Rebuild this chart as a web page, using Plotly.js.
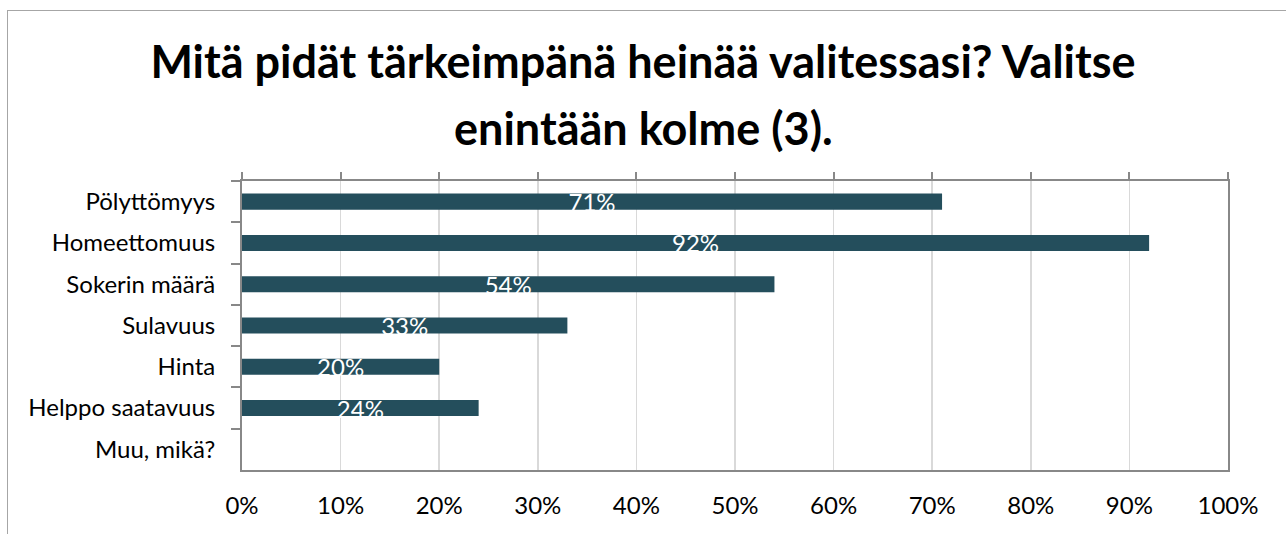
<!DOCTYPE html>
<html>
<head>
<meta charset="utf-8">
<script src="https://cdn.plot.ly/plotly-3.0.1.min.js"></script>
<style>
  html, body { margin: 0; padding: 0; background: #ffffff; overflow: hidden; }
  #frame { position: absolute; left: 7px; top: 10px; width: 1400px; height: 700px; border-left: 1px solid #a6a6a6; border-top: 1px solid #a6a6a6; }
  #chart { position: absolute; left: 0; top: 0; width: 1286px; height: 534px; }
</style>
</head>
<body>
<div id="frame"></div>
<div id="chart"></div>
<script>
const titleLine1 = 'Mitä pidät tärkeimpänä heinää valitessasi? Valitse';
const titleLine2 = 'enintään kolme (3).';
const categories = ['Pölyttömyys', 'Homeettomuus', 'Sokerin määrä', 'Sulavuus', 'Hinta', 'Helppo saatavuus', 'Muu, mikä?'];
const percentValues = [71, 92, 54, 33, 20, 24, 0];
const xTickValues = [0, 0.1, 0.2, 0.3, 0.4, 0.5, 0.6, 0.7, 0.8, 0.9, 1.0];

const fractions = percentValues.map(v => v / 100);
const labels = percentValues.map(v => v > 0 ? v + '%' : '');

const FONT = 'Lato, "Open Sans", sans-serif';

const traces = [
  {
    type: 'bar',
    orientation: 'h',
    y: categories,
    x: fractions,
    text: labels,
    textposition: 'inside',
    insidetextanchor: 'middle',
    constraintext: 'none',
    cliponaxis: false,
    textfont: { family: FONT, size: 24, color: '#ffffff' },
    marker: { color: '#244E5C' },
    hoverinfo: 'skip'
  },
  {
    type: 'scatter',
    x: [0, 1],
    y: [categories[0], categories[0]],
    xaxis: 'x2',
    mode: 'markers',
    marker: { opacity: 0 },
    hoverinfo: 'skip',
    showlegend: false
  }
];

const layout = {
  width: 1286,
  height: 534,
  paper_bgcolor: 'rgba(0,0,0,0)',
  plot_bgcolor: '#ffffff',
  showlegend: false,
  bargap: 0.61,
  margin: { l: 242, r: 58, t: 181, b: 64, pad: 0 },
  title: {
    text: '<b>' + titleLine1 + '</b>',
    font: { family: FONT, size: 45, color: '#000000' },
    x: 0.5,
    xref: 'container',
    xanchor: 'center',
    y: 1 - 62 / 534,
    yref: 'container',
    yanchor: 'middle'
  },
  annotations: [
    {
      text: '<b>' + titleLine2 + '</b>',
      font: { family: FONT, size: 45, color: '#000000' },
      xref: 'paper', yref: 'paper',
      x: (643 - 242) / 986,
      y: 1 + (181 - 128) / 289,
      xanchor: 'center', yanchor: 'middle',
      showarrow: false
    }
  ],
  xaxis: {
    range: [0, 1],
    tickvals: xTickValues,
    tickformat: '.0%',
    showgrid: true,
    gridcolor: '#d9d9d9',
    gridwidth: 1.5,
    zeroline: false,
    showline: true,
    linecolor: '#888888',
    linewidth: 2,
    mirror: true,
    ticks: '',
    ticklabelstandoff: 13,
    tickfont: { family: FONT, size: 24, color: '#000000' },
    fixedrange: true
  },
  xaxis2: {
    overlaying: 'x',
    side: 'top',
    range: [0, 1],
    tickvals: xTickValues,
    ticks: 'outside',
    ticklen: 8,
    tickwidth: 2,
    tickcolor: '#888888',
    showticklabels: false,
    showgrid: false,
    zeroline: false,
    showline: false,
    fixedrange: true
  },
  yaxis: {
    type: 'category',
    autorange: 'reversed',
    tickson: 'boundaries',
    ticks: 'outside',
    ticklen: 9,
    tickwidth: 2,
    tickcolor: '#888888',
    showgrid: false,
    zeroline: false,
    showline: true,
    linecolor: '#888888',
    linewidth: 2,
    mirror: true,
    ticklabelstandoff: 20,
    tickfont: { family: FONT, size: 24, color: '#000000' },
    fixedrange: true
  }
};

Plotly.newPlot('chart', traces, layout, { displayModeBar: false, staticPlot: true });
</script>
</body>
</html>
